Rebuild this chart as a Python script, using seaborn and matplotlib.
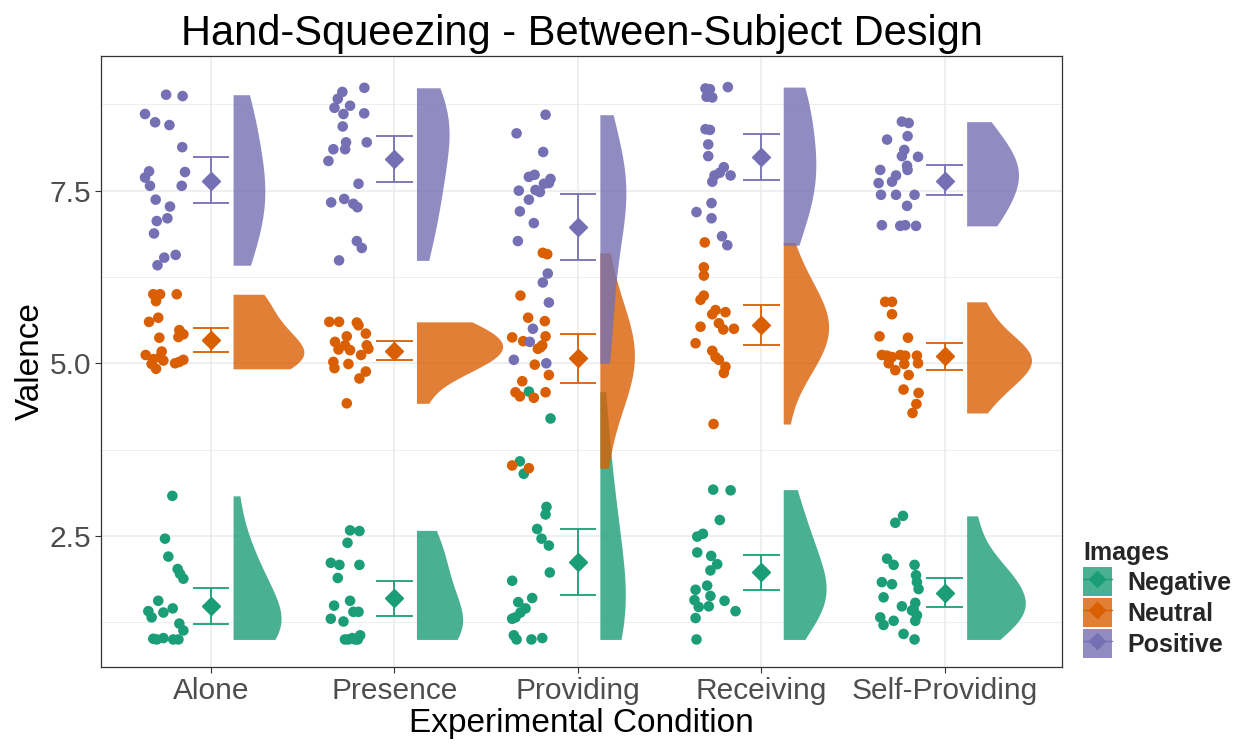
import numpy as np
import pandas as pd
import matplotlib
matplotlib.use("Agg")
import matplotlib.pyplot as plt
import seaborn as sns
from matplotlib.patches import Patch
from matplotlib.lines import Line2D
from matplotlib.legend_handler import HandlerTuple
from matplotlib.ticker import FixedLocator

conditions = ["Alone", "Presence", "Providing", "Receiving", "Self-Providing"]
images = ["Negative", "Neutral", "Positive"]
colors = {"Negative": "#1B9E77", "Neutral": "#D95F02", "Positive": "#7570B3"}

# Per-participant mean valence ratings
alone_neg = [3.08, 2.46, 2.20, 2.02, 1.88, 1.95, 1.56, 1.41, 1.32, 1.39, 1.45, 1.23, 1.13, 1.01, 1.02, 1.00, 1.00, 1.00]
alone_neu = [6.00, 6.00, 5.90, 6.00, 5.60, 5.66, 5.37, 5.48, 5.42, 5.38, 5.12, 5.17, 5.06, 5.09, 4.92, 4.99, 5.04, 5.00, 5.05, 5.02]
alone_pos = [8.89, 8.87, 8.61, 8.49, 8.45, 8.13, 7.78, 7.77, 7.69, 7.57, 7.57, 7.37, 7.27, 7.10, 7.06, 6.88, 6.57, 6.53, 6.42]

presence_neg = [2.58, 2.57, 2.40, 2.11, 2.08, 2.08, 1.89, 1.56, 1.49, 1.40, 1.40, 1.30, 1.26, 1.00, 1.06, 1.00, 1.00, 1.02, 1.00]
presence_neu = [5.60, 5.60, 5.59, 5.55, 5.43, 5.31, 5.39, 5.20, 5.26, 5.19, 5.26, 5.21, 5.12, 5.02, 4.93, 4.99, 4.88, 4.78, 4.42]
presence_pos = [8.99, 8.93, 8.83, 8.70, 8.73, 8.61, 8.62, 8.43, 8.20, 8.10, 8.10, 8.20, 7.93, 7.60, 7.33, 7.38, 7.31, 7.26, 6.77, 6.67, 6.49]

providing_neg = [4.59, 4.20, 3.58, 3.40, 2.92, 2.81, 2.60, 2.46, 2.36, 1.97, 1.85, 1.60, 1.54, 1.45, 1.39, 1.30, 1.32, 1.06, 1.00, 1.00, 1.02]
providing_neu = [6.60, 6.58, 5.98, 5.66, 5.61, 5.39, 5.375, 5.32, 5.26, 5.21, 5.23, 4.98, 4.83, 4.74, 4.58, 4.52, 4.50, 4.58, 3.52, 3.48]
providing_pos = [8.60, 8.33, 8.06, 7.70, 7.73, 7.67, 7.60, 7.61, 7.50, 7.51, 7.48, 7.37, 7.20, 7.03, 6.77, 6.30, 6.17, 5.88, 5.50, 5.31, 5.05, 5.00]

receiving_neg = [3.17, 3.16, 2.73, 2.49, 2.53, 2.26, 2.21, 2.09, 2.00, 1.72, 1.78, 1.63, 1.57, 1.47, 1.48, 1.56, 1.41, 1.31, 1.00]
receiving_neu = [6.75, 6.39, 6.27, 5.98, 5.92, 5.77, 5.74, 5.71, 5.58, 5.49, 5.50, 5.53, 5.29, 5.18, 5.09, 5.05, 4.95, 4.86, 4.12]
receiving_pos = [8.98, 8.97, 8.86, 8.85, 9.00, 8.39, 8.38, 8.17, 8.00, 7.84, 7.76, 7.72, 7.63, 7.72, 7.32, 7.19, 7.10, 6.84, 6.71]

selfprov_neg = [2.69, 2.79, 2.17, 2.08, 2.08, 1.93, 1.83, 1.73, 1.83, 1.80, 1.61, 1.48, 1.53, 1.42, 1.35, 1.27, 1.44, 1.32, 1.27, 1.21, 1.08, 1.00]
selfprov_neu = [5.89, 5.89, 5.71, 5.39, 5.37, 5.12, 5.11, 5.09, 5.12, 5.11, 5.11, 5.00, 5.00, 4.90, 4.99, 4.83, 4.62, 4.57, 4.41, 4.28]
selfprov_pos = [8.50, 8.48, 8.24, 8.29, 8.09, 8.00, 7.99, 7.86, 7.80, 7.80, 7.72, 7.63, 7.61, 7.44, 7.44, 7.44, 7.28, 7.00, 6.99, 7.00, 6.99]

# Horizontal jitter of each point (offset from the condition position)
alone_neg_jit = [-0.211, -0.251, -0.233, -0.182, -0.151, -0.169, -0.288, -0.342, -0.324, -0.26, -0.209, -0.173, -0.151, -0.315, -0.26, -0.296, -0.206, -0.178]
alone_neu_jit = [-0.315, -0.278, -0.3, -0.187, -0.338, -0.288, -0.282, -0.173, -0.151, -0.178, -0.356, -0.269, -0.315, -0.278, -0.3, -0.324, -0.26, -0.196, -0.151, -0.173]
alone_pos_jit = [-0.245, -0.155, -0.36, -0.305, -0.227, -0.157, -0.338, -0.142, -0.36, -0.333, -0.16, -0.302, -0.224, -0.238, -0.296, -0.311, -0.193, -0.255, -0.292]

presence_neg_jit = [-0.242, -0.191, -0.256, -0.347, -0.3, -0.191, -0.309, -0.242, -0.329, -0.224, -0.196, -0.347, -0.278, -0.251, -0.187, -0.215, -0.27, -0.23, -0.2]
presence_neu_jit = [-0.355, -0.302, -0.205, -0.196, -0.156, -0.324, -0.26, -0.305, -0.269, -0.242, -0.151, -0.142, -0.182, -0.333, -0.327, -0.251, -0.156, -0.191, -0.26]
presence_pos_jit = [-0.164, -0.284, -0.309, -0.327, -0.242, -0.278, -0.165, -0.282, -0.264, -0.269, -0.333, -0.151, -0.36, -0.196, -0.345, -0.274, -0.224, -0.202, -0.205, -0.178, -0.302]

providing_neg_jit = [-0.267, -0.149, -0.316, -0.295, -0.171, -0.176, -0.222, -0.198, -0.158, -0.153, -0.358, -0.249, -0.325, -0.285, -0.313, -0.358, -0.34, -0.349, -0.334, -0.253, -0.194]
providing_neu_jit = [-0.191, -0.167, -0.313, -0.271, -0.18, -0.176, -0.358, -0.298, -0.194, -0.218, -0.204, -0.235, -0.158, -0.303, -0.34, -0.316, -0.24, -0.176, -0.358, -0.267]
providing_pos_jit = [-0.176, -0.334, -0.189, -0.267, -0.236, -0.149, -0.185, -0.158, -0.322, -0.231, -0.207, -0.267, -0.316, -0.24, -0.327, -0.164, -0.191, -0.158, -0.245, -0.262, -0.349, -0.172]

receiving_neg_jit = [-0.262, -0.167, -0.226, -0.349, -0.318, -0.349, -0.273, -0.24, -0.277, -0.358, -0.295, -0.277, -0.364, -0.341, -0.286, -0.2, -0.14, -0.358, -0.353]
receiving_neu_jit = [-0.308, -0.313, -0.313, -0.313, -0.331, -0.249, -0.195, -0.267, -0.231, -0.207, -0.149, -0.331, -0.358, -0.267, -0.249, -0.231, -0.195, -0.204, -0.26]
receiving_pos_jit = [-0.304, -0.28, -0.298, -0.267, -0.182, -0.304, -0.28, -0.289, -0.289, -0.204, -0.226, -0.255, -0.267, -0.167, -0.271, -0.353, -0.271, -0.214, -0.185]

selfprov_neg_jit = [-0.269, -0.227, -0.314, -0.278, -0.164, -0.156, -0.151, -0.142, -0.342, -0.287, -0.333, -0.233, -0.16, -0.178, -0.151, -0.16, -0.169, -0.351, -0.278, -0.333, -0.224, -0.164]
selfprov_neu_jit = [-0.324, -0.287, -0.287, -0.355, -0.2, -0.342, -0.314, -0.287, -0.242, -0.215, -0.151, -0.145, -0.305, -0.269, -0.22, -0.196, -0.224, -0.142, -0.154, -0.175]
selfprov_pos_jit = [-0.233, -0.196, -0.314, -0.202, -0.22, -0.233, -0.145, -0.205, -0.202, -0.351, -0.265, -0.287, -0.36, -0.347, -0.265, -0.164, -0.205, -0.342, -0.242, -0.215, -0.156]

# Group means with 95% CI bounds, ordered by condition
neg_mean = [1.48, 1.60, 2.12, 1.97, 1.67]
neg_low = [1.22, 1.34, 1.64, 1.71, 1.47]
neg_high = [1.745, 1.85, 2.60, 2.22, 1.89]
neu_mean = [5.34, 5.18, 5.07, 5.55, 5.10]
neu_low = [5.17, 5.05, 4.72, 5.27, 4.90]
neu_high = [5.51, 5.32, 5.42, 5.84, 5.30]
pos_mean = [7.64, 7.96, 6.97, 7.99, 7.64]
pos_low = [7.32, 7.63, 6.50, 7.66, 7.44]
pos_high = [7.99, 8.29, 7.45, 8.32, 7.87]

groups = [
    ("Alone", "Negative", alone_neg, alone_neg_jit),
    ("Alone", "Neutral", alone_neu, alone_neu_jit),
    ("Alone", "Positive", alone_pos, alone_pos_jit),
    ("Presence", "Negative", presence_neg, presence_neg_jit),
    ("Presence", "Neutral", presence_neu, presence_neu_jit),
    ("Presence", "Positive", presence_pos, presence_pos_jit),
    ("Providing", "Negative", providing_neg, providing_neg_jit),
    ("Providing", "Neutral", providing_neu, providing_neu_jit),
    ("Providing", "Positive", providing_pos, providing_pos_jit),
    ("Receiving", "Negative", receiving_neg, receiving_neg_jit),
    ("Receiving", "Neutral", receiving_neu, receiving_neu_jit),
    ("Receiving", "Positive", receiving_pos, receiving_pos_jit),
    ("Self-Providing", "Negative", selfprov_neg, selfprov_neg_jit),
    ("Self-Providing", "Neutral", selfprov_neu, selfprov_neu_jit),
    ("Self-Providing", "Positive", selfprov_pos, selfprov_pos_jit),
]
summary = {
    "Negative": (neg_mean, neg_low, neg_high),
    "Neutral": (neu_mean, neu_low, neu_high),
    "Positive": (pos_mean, pos_low, pos_high),
}

rows = []
for cond, img, vals, jit in groups:
    xi = conditions.index(cond)
    for v, j in zip(vals, jit):
        rows.append({"Condition": cond, "Images": img, "Valence": v, "xpos": xi + j})
df = pd.DataFrame(rows)
df["Images"] = pd.Categorical(df["Images"], categories=images, ordered=True)
df = df.sort_values("Images", kind="stable")

sns.set_theme(style="whitegrid")
plt.rcParams["font.family"] = ["Liberation Sans", "DejaVu Sans"]

fig = plt.figure(figsize=(12.44, 7.47), dpi=100)
ax = fig.add_axes([0.0812, 0.107, 0.7725, 0.818])

VIOLIN_NUDGE = 0.12
VIOLIN_MAX = 0.47
BW_ADJUST = 1.3
ALPHA = 0.8


def bw_scott(x):
    x = np.asarray(x, float)
    return 1.06 * x.std(ddof=1) * len(x) ** -0.2


# Trimmed kernel density per group, scaled by area across all groups
densities = {}
for cond, img, vals, _ in groups:
    v = np.asarray(vals, float)
    h = bw_scott(v) * BW_ADJUST
    grid = np.linspace(v.min(), v.max(), 512)
    dens = np.exp(-0.5 * ((grid[:, None] - v[None, :]) / h) ** 2).sum(axis=1)
    dens /= len(v) * h * np.sqrt(2 * np.pi)
    densities[(cond, img)] = (grid, dens)
dmax = max(d.max() for _, d in densities.values())

for img in images:
    for cond in conditions:
        grid, dens = densities[(cond, img)]
        x0 = conditions.index(cond) + VIOLIN_NUDGE
        ax.fill_betweenx(grid, x0, x0 + dens / dmax * VIOLIN_MAX,
                         color=colors[img], alpha=ALPHA, linewidth=0, zorder=2)

sns.scatterplot(data=df, x="xpos", y="Valence", hue="Images", hue_order=images,
                palette=colors, s=58, linewidth=0, legend=False, ax=ax, zorder=3)

for img in images:
    mean, low, high = summary[img]
    c = colors[img]
    for i in range(len(conditions)):
        ax.vlines(i, low[i], high[i], color=c, lw=1.3, zorder=4)
        ax.hlines([low[i], high[i]], i - 0.1, i + 0.1, color=c, lw=1.3, zorder=4)
        ax.plot(i, mean[i], marker="D", ms=9.5, color=c, mec=c, zorder=5)

ax.set_xlim(-0.6, 4.64)
ax.set_ylim(0.6, 9.45)
ax.set_xticks(range(len(conditions)))
ax.set_xticklabels(conditions)
ax.set_yticks([2.5, 5.0, 7.5])
ax.set_yticklabels(["2.5", "5.0", "7.5"])
ax.yaxis.set_minor_locator(FixedLocator([1.25, 3.75, 6.25, 8.75]))
ax.grid(True, which="major", color="#EBEBEB", lw=1.1)
ax.grid(True, which="minor", axis="y", color="#EBEBEB", lw=0.6)
ax.set_axisbelow(True)
ax.tick_params(axis="both", which="major", labelsize=21.5, colors="#4D4D4D",
               length=4, width=0.8, color="#333333", left=True, bottom=True, pad=3)
ax.tick_params(axis="y", which="minor", left=False)
for sp in ax.spines.values():
    sp.set_color("#333333")
    sp.set_linewidth(0.9)
ax.set_facecolor("white")

ax.set_xlabel("Experimental Condition", fontsize=24, color="black", labelpad=2)
ax.set_ylabel("Valence", fontsize=24, color="black", labelpad=3)
ax.set_title("Hand-Squeezing - Between-Subject Design", fontsize=30, color="black", pad=8)

handles = []
for img in images:
    c = colors[img]
    handles.append((Patch(facecolor=c, alpha=ALPHA, edgecolor="none"),
                    Line2D([], [], color=c, lw=1.0, marker="D", ms=8, mec=c)))
leg = fig.legend(handles, images, title="Images", loc="upper left",
                 bbox_to_anchor=(0.8706, 0.276), frameon=False, borderpad=0,
                 borderaxespad=0,
                 handler_map={tuple: HandlerTuple(ndivide=1)},
                 handlelength=1.15, handleheight=1.38, handletextpad=0.64,
                 labelspacing=0.1, prop={"size": 18, "weight": "bold"},
                 title_fontproperties={"size": 18, "weight": "bold"})
leg._legend_box.align = "left"

fig.savefig("out.png", dpi=100)
